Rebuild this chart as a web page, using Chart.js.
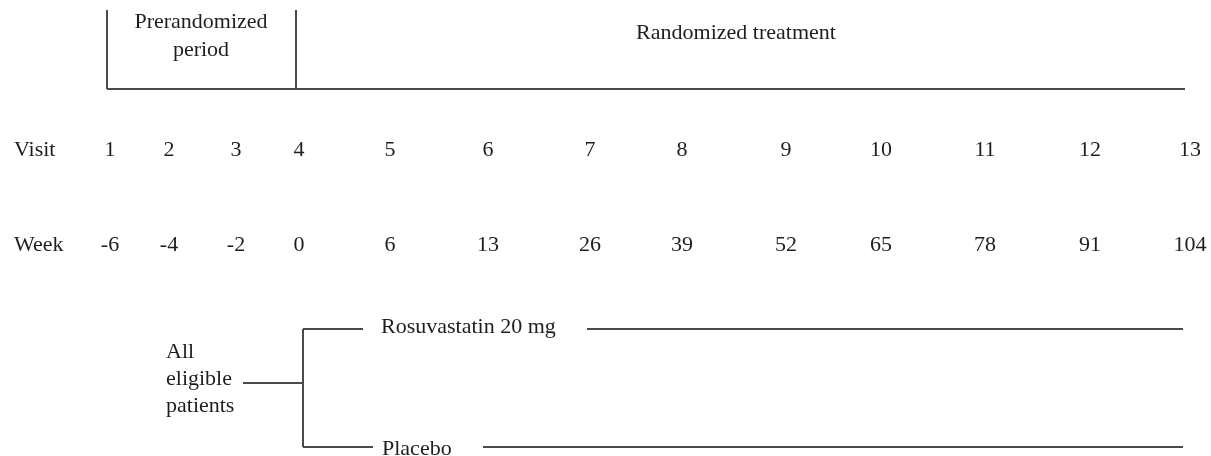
<!DOCTYPE html>
<html>
<head>
<meta charset="utf-8">
<script src="https://cdn.jsdelivr.net/npm/chart.js@4"></script>
<style>
  html, body { margin: 0; padding: 0; background: #fff; }
  #wrap { width: 1211px; height: 456px; font-family: "Liberation Serif"; }
</style>
</head>
<body>
<div id="wrap"><canvas id="design" width="1211" height="456"></canvas></div>
<script>
// ===== Data =====
const visits = [1, 2, 3, 4, 5, 6, 7, 8, 9, 10, 11, 12, 13];
const weeks = [-6, -4, -2, 0, 6, 13, 26, 39, 52, 65, 78, 91, 104];
const rowLabels = ['Visit', 'Week'];
const periodLabels = [['Prerandomized', 'period'], ['Randomized treatment']];
const poolLabel = ['All', 'eligible', 'patients'];
const arms = ['Rosuvastatin 20 mg', 'Placebo'];

// ===== Layout (diagram units = pixels of the 1211x456 picture) =====
const colX = [110, 169, 236, 299, 390, 488, 590, 682, 786, 881, 985, 1090, 1190];
const rowY = [150, 245];
const bracketTop = 10, bracketBottom = 89, bracketLeft = 107, bracketSplit = 296, bracketRight = 1185;
const armY = [329, 447];
const armStart = 303, armEnd = 1183;
const font = '22px "Liberation Serif", "Times New Roman", serif';
const ink = '#1e1e1e';
const lineColor = '#4a4a4a';

function seg(x1, y1, x2, y2) {
    return {
        data: [{x: x1, y: y1}, {x: x2, y: y2}],
        showLine: true, borderColor: lineColor, borderWidth: 2,
        pointRadius: 0, fill: false
    };
}

let datasets = [
    seg(bracketLeft, bracketTop, bracketLeft, bracketBottom),
    seg(bracketSplit, bracketTop, bracketSplit, bracketBottom),
    seg(bracketLeft, bracketBottom, bracketRight, bracketBottom),
    seg(243, 383, armStart, 383),
    seg(armStart, armY[0], armStart, armY[1]),
    seg(armStart, armY[0], 363, armY[0]),
    seg(587, armY[0], armEnd, armY[0]),
    seg(armStart, armY[1], 373, armY[1]),
    seg(483, armY[1], armEnd, armY[1])
];

// ===== Text plugin =====
const textPlugin = {
    id: 'designText',
    afterDatasetsDraw(chart) {
        const ctx = chart.ctx;
        const sx = chart.scales.x, sy = chart.scales.y;
        const put = (t, x, y, align) => {
            ctx.textAlign = align || 'center';
            ctx.fillText(t, sx.getPixelForValue(x), sy.getPixelForValue(y));
        };
        ctx.save();
        ctx.font = font;
        ctx.fillStyle = ink;
        ctx.textBaseline = 'middle';

        put(periodLabels[0][0], 201, 22);
        put(periodLabels[0][1], 201, 50);
        put(periodLabels[1][0], 736, 33);

        put(rowLabels[0], 14, rowY[0], 'left');
        put(rowLabels[1], 14, rowY[1], 'left');
        visits.forEach((v, i) => put(String(v), colX[i], rowY[0]));
        weeks.forEach((w, i) => put(String(w), colX[i], rowY[1]));

        poolLabel.forEach((t, i) => put(t, 166, 352 + i * 27, 'left'));
        put(arms[0], 381, armY[0] - 2, 'left');
        put(arms[1], 382, armY[1] + 2, 'left');
        ctx.restore();
    }
};

function draw() {
    new Chart(document.getElementById('design'), {
        type: 'scatter',
        data: {datasets: datasets},
        options: {
            responsive: false,
            animation: false,
            layout: {padding: 0},
            plugins: {legend: {display: false}, tooltip: {enabled: false}},
            scales: {
                x: {type: 'linear', min: 0, max: 1211, display: false},
                y: {type: 'linear', min: 0, max: 456, reverse: true, display: false}
            }
        },
        plugins: [textPlugin]
    });
}

document.fonts.load(font).then(draw, draw);
</script>
</body>
</html>
